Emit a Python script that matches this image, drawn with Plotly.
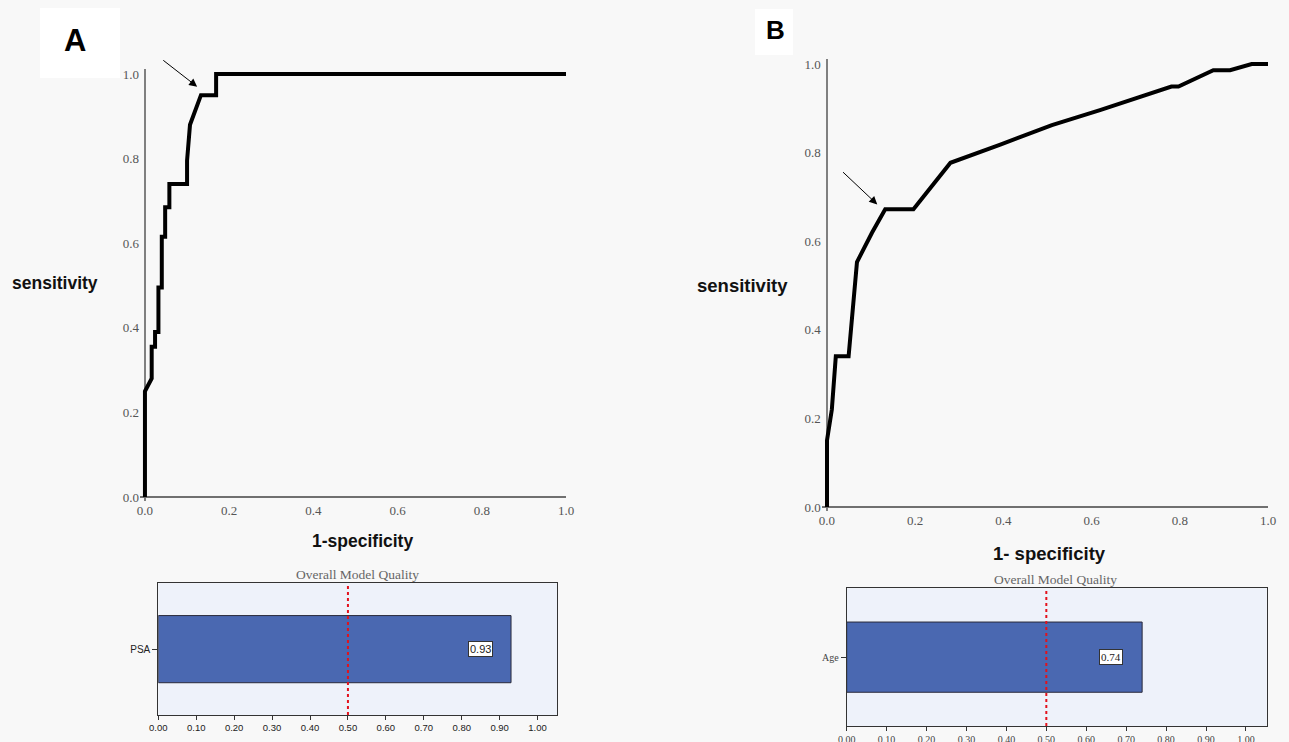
import plotly.graph_objects as go

W, H = 1289, 742

# ---------------- data ----------------
# Panel A: ROC curve for PSA
fpr_a = [0.0, 0.0, 0.016, 0.016, 0.024, 0.024, 0.032, 0.032, 0.040, 0.040, 0.048, 0.048,
         0.058, 0.058, 0.100, 0.100, 0.107, 0.133, 0.169, 0.169, 1.0]
sens_a = [0.0, 0.25, 0.28, 0.355, 0.355, 0.39, 0.39, 0.495, 0.495, 0.615, 0.615, 0.685,
          0.685, 0.74, 0.74, 0.795, 0.88, 0.95, 0.95, 1.0, 1.0]

# Panel B: ROC curve for Age
fpr_b = [0.0, 0.0, 0.011, 0.020, 0.049, 0.068, 0.102, 0.132, 0.196, 0.280, 0.393, 0.51,
         0.619, 0.781, 0.797, 0.876, 0.914, 0.963, 1.0]
sens_b = [0.0, 0.15, 0.22, 0.34, 0.34, 0.553, 0.619, 0.672, 0.672, 0.777, 0.818, 0.862,
          0.896, 0.949, 0.949, 0.986, 0.986, 1.0, 1.0]

# Overall model quality (AUC)
model_a = ["PSA"]
auc_a = [0.93]
model_b = ["Age"]
auc_b = [0.74]
threshold = 0.5

roc_ticks = [0.0, 0.2, 0.4, 0.6, 0.8, 1.0]
bar_ticks = [0.0, 0.1, 0.2, 0.3, 0.4, 0.5, 0.6, 0.7, 0.8, 0.9, 1.0]

# ---------------- helpers ----------------
def xd(p0, p1):
    return [p0 / W, p1 / W]

def yd(top, bottom):
    return [1 - bottom / H, 1 - top / H]

def px(x):
    return x / W

def py(y):
    return 1 - y / H

SERIF = "Liberation Serif"
SANS = "Liberation Sans"
BG = "#f8f8f8"

fig = go.Figure()

# ROC curves
fig.add_trace(go.Scatter(x=fpr_a, y=sens_a, mode="lines", line=dict(color="black", width=4),
                         xaxis="x", yaxis="y", showlegend=False, hoverinfo="skip"))
fig.add_trace(go.Scatter(x=fpr_b, y=sens_b, mode="lines", line=dict(color="black", width=4),
                         xaxis="x2", yaxis="y2", showlegend=False, hoverinfo="skip"))

# Bars
bar_color = "#4a68b1"
fig.add_trace(go.Bar(x=auc_a, y=model_a, orientation="h", width=0.51,
                     marker=dict(color=bar_color, line=dict(color="#2a2a3a", width=1)),
                     xaxis="x3", yaxis="y3", showlegend=False, hoverinfo="skip"))
fig.add_trace(go.Bar(x=auc_b, y=model_b, orientation="h", width=0.51,
                     marker=dict(color=bar_color, line=dict(color="#2a2a3a", width=1)),
                     xaxis="x4", yaxis="y4", showlegend=False, hoverinfo="skip"))

roc_x_common = dict(range=[-0.012, 1.0], tickvals=roc_ticks, tickformat=".1f",
                    showgrid=False, zeroline=True, zerolinecolor="#808080", zerolinewidth=2,
                    showline=False, ticks="", tickfont=dict(family=SERIF, size=13, color="#555555"),
                    fixedrange=True, automargin=False)
roc_y_common = dict(range=[-0.01, 1.012], tickvals=roc_ticks, tickformat=".1f",
                    showgrid=False, zeroline=True, zerolinecolor="#707070", zerolinewidth=1.5,
                    showline=False, ticks="", tickfont=dict(family=SERIF, size=13, color="#555555"),
                    fixedrange=True, automargin=False)

bar_x_common = dict(range=[0, 1.052], tickvals=bar_ticks, tickformat=".2f",
                    showgrid=False, zeroline=False, showline=True, mirror=True,
                    linecolor="#333333", linewidth=1, ticks="outside", ticklen=4,
                    tickcolor="#333333", fixedrange=True, automargin=False)
bar_y_common = dict(range=[-0.5, 0.5], showgrid=False, zeroline=False, showline=True,
                    mirror=True, linecolor="#333333", linewidth=1, ticks="outside",
                    ticklen=5, tickcolor="#333333", fixedrange=True, automargin=False)

fig.update_layout(
    width=W, height=H, autosize=False,
    margin=dict(l=0, r=0, t=0, b=0, pad=0, autoexpand=False),
    paper_bgcolor=BG, plot_bgcolor="rgba(0,0,0,0)",
    xaxis=dict(domain=xd(139.9, 566), anchor="y", **roc_x_common),
    yaxis=dict(domain=yd(68.9, 501.2), anchor="x", **roc_y_common),
    xaxis2=dict(domain=xd(821.7, 1268), anchor="y2", **roc_x_common),
    yaxis2=dict(domain=yd(58.7, 511.4), anchor="x2", **roc_y_common),
    xaxis3=dict(domain=xd(158.3, 557.3), anchor="y3",
                tickfont=dict(family=SANS, size=9.5, color="#222222"), **bar_x_common),
    yaxis3=dict(domain=yd(583.3, 715), anchor="x3",
                tickfont=dict(family=SANS, size=10, color="#222222"), **bar_y_common),
    xaxis4=dict(domain=xd(846.7, 1266.7), anchor="y4",
                tickfont=dict(family=SERIF, size=10, color="#444444"), **bar_x_common),
    yaxis4=dict(domain=yd(588.3, 726), anchor="x4",
                tickfont=dict(family=SERIF, size=10, color="#444444"), **bar_y_common),
)

# pale blue background for bar plot areas, and the 0.5 reference line
for xr, yr in (("x3", "y3"), ("x4", "y4")):
    fig.add_shape(type="rect", xref=f"{xr} domain", yref=f"{yr} domain", x0=0, x1=1, y0=0, y1=1,
                  fillcolor="#eef2fa", line=dict(width=0), layer="below")
    fig.add_shape(type="line", xref=xr, yref=f"{yr} domain", x0=threshold, x1=threshold,
                  y0=0, y1=1, line=dict(color="#e3121b", width=2, dash="dot"), layer="above")

# white boxes behind panel letters
fig.add_shape(type="rect", xref="paper", yref="paper", x0=px(40), x1=px(120), y0=py(78), y1=py(8),
              fillcolor="white", line=dict(width=0), layer="below")
fig.add_shape(type="rect", xref="paper", yref="paper", x0=px(755), x1=px(793), y0=py(55), y1=py(9),
              fillcolor="white", line=dict(width=0), layer="below")


def label(text, x, y, size, family=SANS, color="#111111"):
    return dict(text=text, x=px(x), y=py(y), xref="paper", yref="paper", showarrow=False,
                xanchor="center", yanchor="middle", font=dict(family=family, size=size, color=color))


ann = [
    label("<b>A</b>", 75, 40, 31, color="black"),
    label("<b>B</b>", 775, 30, 26, color="black"),
    label("<b>sensitivity</b>", 55, 283, 17.5),
    label("<b>1-specificity</b>", 362, 541, 17.5),
    label("<b>sensitivity</b>", 742, 285, 18.5),
    label("<b>1- specificity</b>", 1049, 553, 18.5),
    label("Overall Model Quality", 357, 574, 13.5, SERIF, "#666666"),
    label("Overall Model Quality", 1055, 579, 13.5, SERIF, "#666666"),
]

# arrows pointing at cut-off points
ann.append(dict(x=0.124, y=0.97, ax=0.040, ay=1.035, xref="x", yref="y", axref="x", ayref="y",
                showarrow=True, arrowhead=2, arrowsize=1.6, arrowwidth=1, arrowcolor="black", text=""))
ann.append(dict(x=0.114, y=0.683, ax=0.033, ay=0.759, xref="x2", yref="y2", axref="x2", ayref="y2",
                showarrow=True, arrowhead=2, arrowsize=1.6, arrowwidth=1, arrowcolor="black", text=""))

# value labels on bars
for v, m, xr, yr, fam in ((auc_a[0], model_a[0], "x3", "y3", SANS), (auc_b[0], model_b[0], "x4", "y4", SERIF)):
    ann.append(dict(text=f"{v:.2f}", x=v - 0.048, y=m, xref=xr, yref=yr, xanchor="right",
                    yanchor="middle", showarrow=False, bgcolor="white", bordercolor="#333333",
                    borderwidth=1, borderpad=1, font=dict(family=fam, size=11, color="#222222")))

fig.update_layout(annotations=ann)

fig.write_html("out.html", config={"responsive": False, "displayModeBar": False},
               post_script="document.body.style.margin='0px';document.body.style.overflow='hidden';")
